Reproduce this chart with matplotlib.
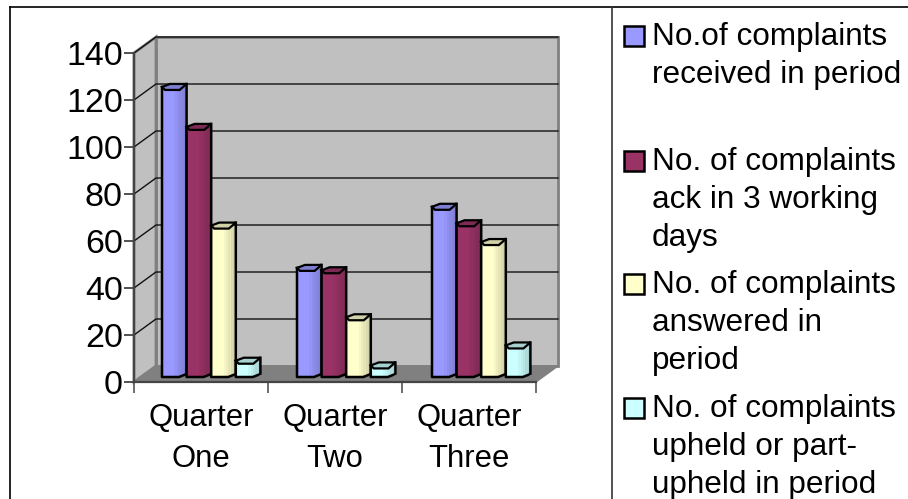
import matplotlib
matplotlib.use("Agg")
import matplotlib.pyplot as plt
from matplotlib.patches import Polygon, Rectangle
from matplotlib.lines import Line2D

plt.rcParams['font.family'] = ['Liberation Sans', 'DejaVu Sans']

# Data
quarters = ['Quarter\nOne', 'Quarter\nTwo', 'Quarter\nThree']
received = [123, 46, 72]
acknowledged = [106, 45, 65]
answered = [64, 25, 57]
upheld = [6.5, 4.5, 13]
series = [received, acknowledged, answered, upheld]
colors = ['#9999FF', '#993366', '#FFFFCC', '#CCFFFF']
legend_labels = ['No.of complaints\nreceived in period',
                 'No. of complaints\nack in 3 working\ndays',
                 'No. of complaints\nanswered in\nperiod',
                 'No. of complaints\nupheld or part-\nupheld in period']
y_ticks = [0, 20, 40, 60, 80, 100, 120, 140]

W, H = 908, 499
fig = plt.figure(figsize=(W/100, H/100), dpi=100)
ax = fig.add_axes([134/W, (H-382)/H, 402/W, 329/H])
ax.set_xlim(0, 3)
ax.set_ylim(0, 140)

# pixel to data scale, for the fake 3d depth
px = 3/402
py = 140/329
depth_x = 22*px
depth_y = 16*py


def shade(col, f):
    r, g, b = matplotlib.colors.to_rgb(col)
    return (r*f, g*f, b*f)


# walls and floor
ax.add_patch(Polygon([(depth_x, depth_y), (3+depth_x, depth_y), (3+depth_x, 140+depth_y), (depth_x, 140+depth_y)],
                     fc='#C0C0C0', ec='#808080', lw=2, clip_on=False, zorder=1))
ax.add_patch(Polygon([(0, 0), (depth_x, depth_y), (depth_x, 140+depth_y), (0, 140)],
                     fc='#C0C0C0', ec='#808080', lw=2, clip_on=False, zorder=1))
ax.add_patch(Polygon([(0, 0), (3, 0), (3+depth_x, depth_y), (depth_x, depth_y)],
                     fc='#808080', ec='#808080', lw=1, clip_on=False, zorder=1))

# gridlines on back and side wall
for t in y_ticks[1:]:
    ax.plot([0, depth_x, 3+depth_x], [t, t+depth_y, t+depth_y], color='#111111', lw=1,
            clip_on=False, zorder=2)

# bars
base = 6*py
bar_w = 24.6*px
start = 28*px
step = 135*px
for q in range(len(quarters)):
    for s, vals in enumerate(series):
        x0 = q*step + start + s*bar_w
        x1 = x0 + bar_w
        top = base + vals[q]
        col = colors[s]
        # shaded front, a few strips from light to dark
        n = 10
        for k in range(n):
            a = x0 + (x1-x0)*k/n
            b = x0 + (x1-x0)*(k+1)/n
            f = 1.0 if k < 5 else 1.0 - 0.035*(k-4)
            ax.add_patch(Rectangle((a, base), b-a+0.002, vals[q], fc=shade(col, f), ec='none',
                                   clip_on=False, zorder=3+q*4+s))
        z = 3.5+q*4+s
        # top face
        ax.add_patch(Polygon([(x0, top), (x0+8*px, top+3*py), (x1, top+3*py), (x1-7*px, top-3*py),
                              (x0+3*px, top-3*py)],
                             fc=shade(col, 0.82), ec='black', lw=1.6, clip_on=False, zorder=z))
        # outline
        ax.add_line(Line2D([x0, x0, x0+17*px, x1, x1],
                           [top, base-py, base-py, base+2*py, top+3*py],
                           color='black', lw=1.8, clip_on=False, zorder=z))

# axis
ax.set_xticks([0, 1, 2, 3], labels=[])
ax.set_xticks([0.5, 1.5, 2.5], labels=quarters, minor=True)
ax.set_yticks(y_ticks)
ax.tick_params(axis='y', length=7, width=1.2, labelsize=24.5, pad=1, color='#333333')
ax.tick_params(axis='x', which='major', length=8, width=1.2, color='#555555')
ax.tick_params(axis='x', which='minor', length=0, labelsize=22.3, pad=15)
for lab in ax.get_xticklabels(minor=True):
    lab.set_linespacing(1.48)
for sp in ['top', 'right']:
    ax.spines[sp].set_visible(False)
ax.spines['left'].set_color('#444444')
ax.spines['left'].set_linewidth(1.6)
ax.spines['left'].set_zorder(2)
ax.spines['bottom'].set_color('#444444')
ax.spines['bottom'].set_linewidth(1.6)
ax.patch.set_visible(False)

# legend built by hand, the line breaks are part of the look
legend_tops = [22, 147, 270, 394]
for lab, col, y in zip(legend_labels, colors, legend_tops):
    fig.add_artist(Rectangle((624/W, 1-(y+24)/H), 20/W, 20/H, fc=col, ec='black', lw=1.8,
                             transform=fig.transFigure))
    fig.text(652/W, 1-y/H, lab, fontsize=22.7, va='top', ha='left', linespacing=1.35)

# frame around the chart
fig.add_artist(Line2D([10/W, 10/W], [0, 1-7/H], color='black', lw=1.2))
fig.add_artist(Line2D([10/W, 1], [1-7/H, 1-7/H], color='black', lw=1.2))
fig.add_artist(Line2D([612/W, 612/W], [0, 1-7/H], color='#333333', lw=1.2))

fig.savefig('out.png', dpi=100)
